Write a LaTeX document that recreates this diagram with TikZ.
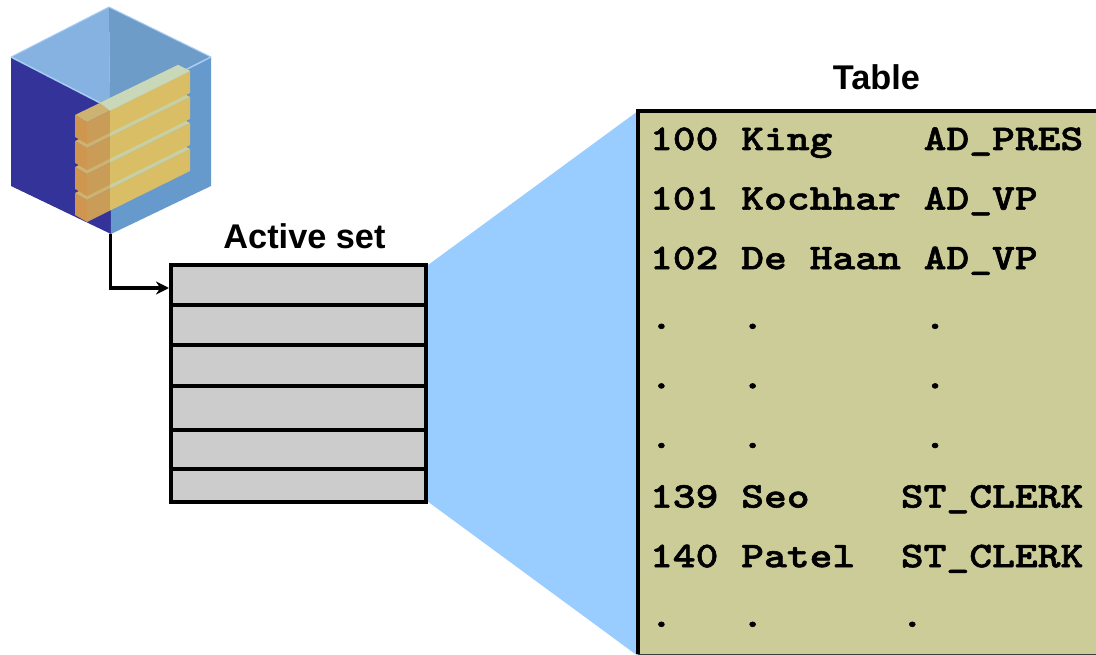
\documentclass[tikz,border=0pt]{standalone}
\usepackage{fontspec}
\setmainfont{Liberation Sans}
\setmonofont{Latin Modern Mono Light}[BoldFeatures={FakeStretch=1.2, FakeBold=1.5}]
\usetikzlibrary{positioning,backgrounds,arrows.meta}
\definecolor{wedgeblue}{HTML}{99CCFF}
\definecolor{tablekhaki}{HTML}{CCCC99}
\definecolor{rowgray}{HTML}{CCCCCC}
\definecolor{cubetopleft}{HTML}{85B2E0}
\definecolor{cubetopright}{HTML}{6E9CC8}
\definecolor{cubeleft}{HTML}{333399}
\definecolor{cuberight}{HTML}{6699CC}
\definecolor{cubeedge}{HTML}{A8CDF5}
\definecolor{barend}{HTML}{CF9650}
\definecolor{barshade}{HTML}{C99C58}
\definecolor{barfront}{HTML}{D9BE66}
\definecolor{bartan}{HTML}{CDB272}
\definecolor{barstripe}{HTML}{C9CF9F}
\definecolor{barpale}{HTML}{C8D8B8}
\tikzset{
  activerow/.style={rectangle, draw=black, line width=4pt, fill=rowgray, minimum width=254.7pt, inner sep=0pt, outer sep=0pt},
  tablerow/.style={font=\ttfamily\bfseries\fontsize{36.2}{40}\selectfont, text width=440pt, align=flush left, text height=30pt, text depth=10pt, inner sep=0pt},
  setlabel/.style={font=\bfseries\fontsize{34.3}{36}\selectfont, anchor=base, inner sep=0pt},
  barblock/.pic={
    \fill [barend] (75,115) -- (87,122) -- (87,144) -- (75,137) -- cycle;
    \fill [barshade] (87,122) -- (110,110.6) -- (110,132.6) -- (87,144) -- cycle;
    \fill [barfront] (110,110.6) -- (190,71) -- (190,93) -- (110,132.6) -- cycle;
    \fill [bartan] (75,115) -- (110,98) -- (110,110.6) -- (87,122) -- cycle;
    \fill [barstripe] (110,98) -- (178,65) -- (190,71) -- (110,110.6) -- cycle;
  }
}
\begin{document}
\begin{tikzpicture}[x=1pt, y=-1pt, node distance=59.6pt]
  \useasboundingbox (0,0) rectangle (1096,655);
  \fill [cubetopleft] (109,7) -- (11,57) -- (110,108) -- cycle;
  \fill [cubetopright] (109,7) -- (211,57) -- (110,108) -- cycle;
  \fill [cubeleft] (11,57) -- (110,108) -- (111,234) -- (11,186) -- cycle;
  \fill [cuberight] (110,108) -- (211,57) -- (211,186) -- (111,234) -- cycle;
  \draw [cubeedge, line width=1.5pt] (11,57) -- (110,108) -- (211,57);
  \draw [cubeedge, line width=1pt] (11,57) -- (109,7) -- (211,57);
  \pic at (0,78) {barblock};
  \pic at (0,52) {barblock};
  \pic at (0,26) {barblock};
  \pic at (0,0) {barblock};
  \fill [barpale] (100,103) -- (110,98) -- (178,65) -- (190,71) -- (110,110.6) -- cycle;

  \node (activelabel) [setlabel] at (304.5,248.7) {Active set};
  \node (activerow1) [activerow, minimum height=40.3pt] at (298.35,284.85) {};
  \node (activerow2) [activerow, minimum height=40.3pt, below=0pt of activerow1] {};
  \node (activerow3) [activerow, minimum height=40.7pt, below=0pt of activerow2] {};
  \node (activerow4) [activerow, minimum height=44pt, below=0pt of activerow3] {};
  \node (activerow5) [activerow, minimum height=39pt, below=0pt of activerow4] {};
  \node (activerow6) [activerow, minimum height=33pt, below=0pt of activerow5] {};

  \node (tablelabel) [setlabel] at (876.5,90) {Table};
  \node (tablebox) [rectangle, fill=tablekhaki, minimum width=458pt, minimum height=543pt, inner sep=0pt, outer sep=0pt] at (867,382.5) {};
  \draw [line width=4pt] (tablebox.south west) -- (tablebox.north west) -- (tablebox.north east);
  \draw [line width=1pt, black!75] (tablebox.south west) -- (tablebox.south east);

  \node (row1) [tablerow] at (870,140) {100~King~~~~AD\_PRES};
  \node (row2) [tablerow, below of=row1] {101~Kochhar~AD\_VP};
  \node (row3) [tablerow, below of=row2] {102~De~Haan~AD\_VP};
  \node (row4) [tablerow, below of=row3] {.~~~.~~~~~~~.};
  \node (row5) [tablerow, below of=row4] {.~~~.~~~~~~~.};
  \node (row6) [tablerow, below of=row5] {.~~~.~~~~~~~.};
  \node (row7) [tablerow, below of=row6] {139~Seo~~~~ST\_CLERK};
  \node (row8) [tablerow, below of=row7] {140~Patel~~ST\_CLERK};
  \node (row9) [tablerow, below of=row8] {.~~~.~~~~~~.};

  \begin{scope}[on background layer]
    \fill [wedgeblue] ([yshift=-2pt]activerow1.north east) -- (tablebox.north west) -- ([yshift=-2pt]tablebox.south west) -- ([yshift=2pt]activerow6.south east) -- cycle;
  \end{scope}

  \coordinate (cubebottom) at (110.5,234);
  \coordinate (arrowend) at (169,288);
  \draw [-{Stealth[length=13pt, width=13pt]}, line width=3.5pt] (cubebottom) |- (arrowend);
\end{tikzpicture}
\end{document}
